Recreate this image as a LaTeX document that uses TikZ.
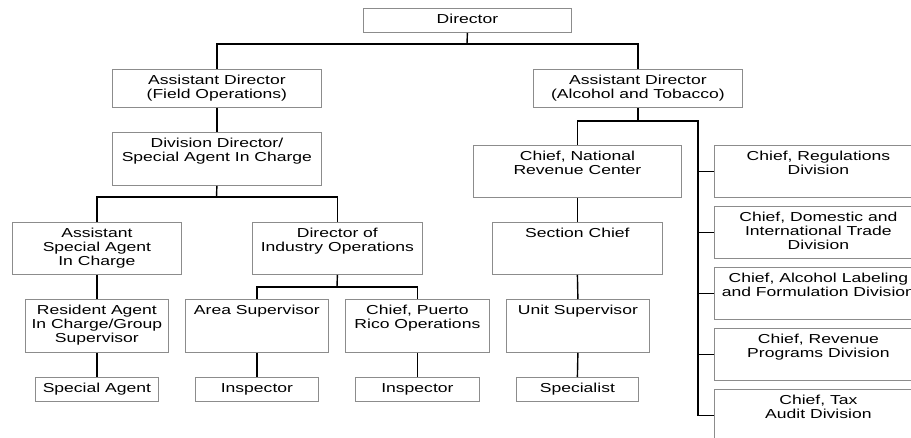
\documentclass[tikz,border=0pt]{standalone}
\usepackage{fontspec}
\setmainfont[FakeStretch=1.35]{Liberation Sans}
\usepackage{tikz}
\definecolor{boxgray}{gray}{0.55}
\tikzset{orgbox/.style={draw=boxgray,line width=.8pt,inner xsep=0pt,inner ysep=5.2pt,anchor=north west,font=\fontsize{13}{14}\selectfont}}
\tikzset{orgline/.style={draw,line width=1.4pt}}
\newcommand{\boxtext}[3]{\parbox[t][\dimexpr#2pt-10.4pt\relax][t]{#1pt}{\centering\strut #3}}

\begin{document}
\begin{tikzpicture}[x=1pt,y=-1pt]
    \useasboundingbox (0,0) rectangle (911,438);
    \clip (0,0) rectangle (911,438);

    % top levels
    \node[orgbox] (dir) at (363,8) {\boxtext{208}{24}{Director}};
    \node[orgbox] (adfo) at (112,69) {\boxtext{209}{38}{Assistant Director\\(Field Operations)}};
    \node[orgbox] (adat) at (533,69) {\boxtext{209}{38}{Assistant Director\\(Alcohol and Tobacco)}};
    \node[orgbox] (divdir) at (112,132) {\boxtext{209}{53}{Division Director/\\Special Agent In Charge}};

    % field operations
    \node[orgbox] (asac) at (12,222) {\boxtext{169}{52}{Assistant\\Special Agent\\In Charge}};
    \node[orgbox] (dio) at (252,222) {\boxtext{170}{52}{Director of\\Industry Operations}};
    \node[orgbox] (resag) at (25,299) {\boxtext{143}{53}{Resident Agent\\In Charge/Group\\Supervisor}};
    \node[orgbox] (areasup) at (185,299) {\boxtext{143}{53}{Area Supervisor}};
    \node[orgbox] (prico) at (345,299) {\boxtext{144}{53}{Chief, Puerto\\Rico Operations}};
    \node[orgbox] (spag) at (35,377) {\boxtext{123}{24}{Special Agent}};
    \node[orgbox] (insp1) at (195,377) {\boxtext{123}{24}{Inspector}};
    \node[orgbox] (insp2) at (355,377) {\boxtext{124}{24}{Inspector}};

    % alcohol and tobacco
    \node[orgbox] (nrc) at (473,145) {\boxtext{208}{52}{Chief, National\\Revenue Center}};
    \node[orgbox] (secchief) at (492,222) {\boxtext{170}{52}{Section Chief}};
    \node[orgbox] (unitsup) at (506,299) {\boxtext{143}{53}{Unit Supervisor}};
    \node[orgbox] (specialist) at (516,377) {\boxtext{122}{24}{Specialist}};
    \foreach \i/\t in {1/{Chief, Regulations\\Division},
                       2/{Chief, Domestic and\\International Trade\\Division},
                       3/{Chief, Alcohol Labeling\\and Formulation Division},
                       4/{Chief, Revenue\\Programs Division},
                       5/{Chief, Tax\\Audit Division}}{
      \node[orgbox] (r\i) at (714,{145+61*(\i-1)}) {\boxtext{208}{52}{\t}};
    }

    % connectors
    \coordinate (bus1) at (467,44);
    \coordinate (bus2) at (216.5,197);
    \coordinate (bus3) at (337,287);
    \coordinate (spine) at (698,121);
    \draw[orgline] (dir.south) -- (bus1);
    \draw[orgline] (adfo.north) |- (bus1) -| (adat.north);
    \draw[orgline] (adfo.south) -- (divdir.north);
    \draw[orgline] (divdir.south) -- (bus2);
    \draw[orgline] (asac.north) |- (bus2) -| (dio.north);
    \draw[orgline] (asac.south) -- (resag.north);
    \draw[orgline] (resag.south) -- (spag.north);
    \draw[orgline] (dio.south) -- (bus3);
    \draw[orgline] (areasup.north) |- (bus3) -| (prico.north);
    \draw[orgline] (areasup.south) -- (insp1.north);
    \draw[orgline] (prico.south) -- (insp2.north);
    \draw[orgline] (adat.south) -- (adat.south |- spine);
    \draw[orgline] (nrc.north) |- (spine) |- (r5.west);
    \foreach \i in {1,...,4}
      \draw[orgline] (r\i.west) -- (r\i.west -| spine);
    \draw[orgline] (nrc.south) -- (secchief.north);
    \draw[orgline] (secchief.south) -- (unitsup.north);
    \draw[orgline] (unitsup.south) -- (specialist.north);

\end{tikzpicture}
\end{document}
